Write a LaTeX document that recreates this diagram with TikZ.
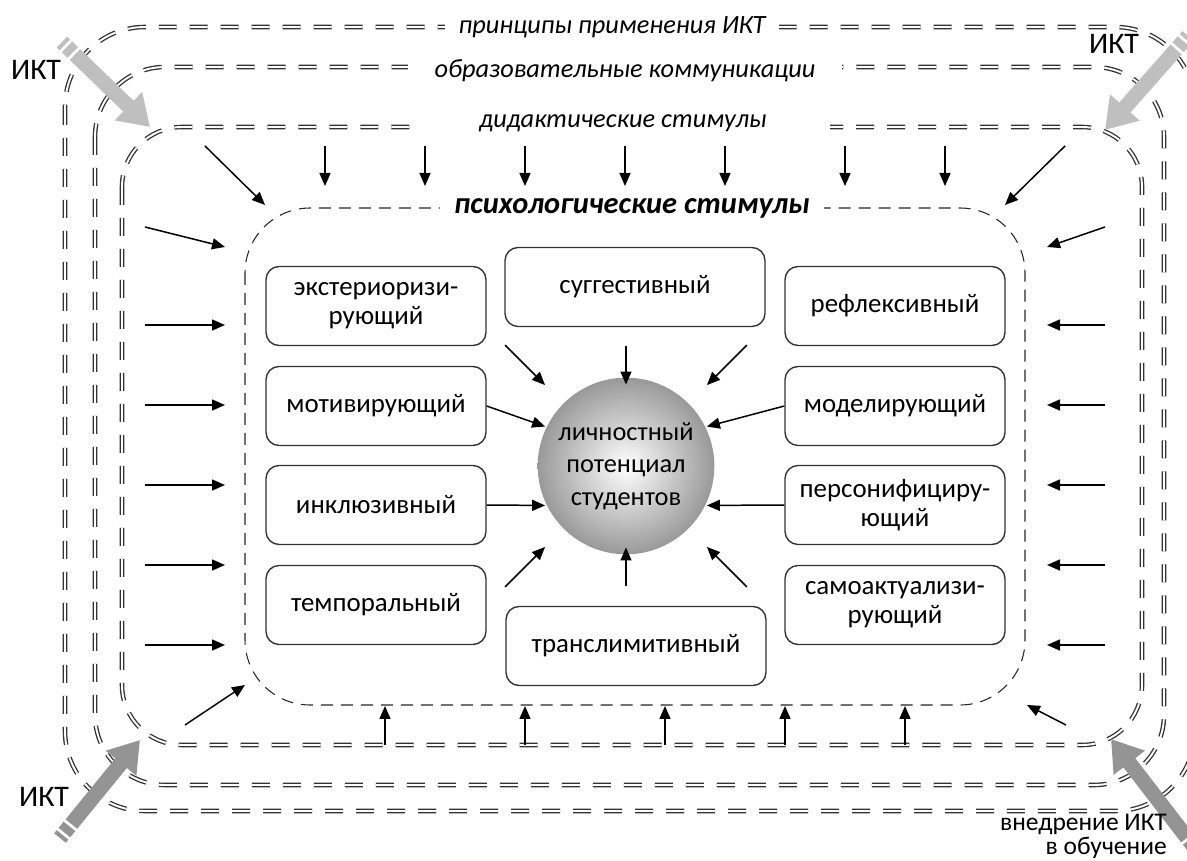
\documentclass[tikz,border=0pt]{standalone}
\usepackage{fontspec}
\setmainfont{Carlito}
\usetikzlibrary{arrows.meta,calc}

\tikzset{
  frameline/.style={draw=black!80, line width=0.75pt, double=white, double distance=1.1pt, dash pattern=on 3.6mm off 2.6mm},
  psychline/.style={draw=black!85, line width=0.6pt, dash pattern=on 2.4mm off 1.6mm},
  framelabel/.style={fill=white, inner sep=0pt, minimum height=6mm, font=\itshape\fontsize{15}{18}\selectfont},
  stimbox/.style={draw=black!80, line width=0.8pt, rounded corners=2.6mm, minimum width=4.4cm, minimum height=1.58cm, align=center, font=\fontsize{15.3}{16.5}\selectfont},
  stim/.style={->, line width=0.85pt, black},
  iktarrow/.style={line width=3mm, -{Triangle[length=6mm,width=7.5mm]}, dash pattern=on 0.8mm off 0.6mm on 1.6mm off 0.6mm on 40cm},
  iktlabel/.style={font=\fontsize{17}{19}\selectfont, inner sep=0pt}
}

\begin{document}
\begin{tikzpicture}[x=0.02cm, y=-0.02cm, >={Triangle[length=2.6mm,width=2.2mm]}]
    \useasboundingbox (0,0) rectangle (1187,861);

    % frames
    \draw[frameline, rounded corners=1.6cm] (65,27) rectangle (1195,811);
    \draw[frameline, rounded corners=1.4cm] (95,67) rectangle (1164,785);
    \draw[frameline, rounded corners=1.2cm] (122,127) rectangle (1142,745);
    \draw[psychline, rounded corners=1.3cm] (245,208) rectangle (1025,705);

    \node[framelabel, minimum width=6.7cm] (princ) at (612,27) {принципы применения ИКТ};
    \node[framelabel, minimum width=8.7cm] (comm) at (625,71) {образовательные коммуникации};
    \node[framelabel, minimum width=8.3cm] (didact) at (623,123) {дидактические стимулы};
    \node[framelabel, minimum width=7.7cm, font=\bfseries\itshape\fontsize{17.3}{20}\selectfont] (psych) at (632,208) {психологические стимулы};

    % ICT arrows
    \draw[iktarrow, black!25] (62,42) -- (150,127);
    \draw[iktarrow, black!25] (1188,36) -- (1105,130);
    \draw[iktarrow, black!42] (60,838) -- (140,740);
    \draw[iktarrow, black!42] (1198,852) -- (1111,739);

    \node[iktlabel] (iktA) at (36,70) {ИКТ};
    \node[iktlabel] (iktB) at (1114,44) {ИКТ};
    \node[iktlabel] (iktC) at (44,797) {ИКТ};
    \node[iktlabel, font=\fontsize{14.5}{13.5}\selectfont, align=right, anchor=south east] (iktD) at (1167,859) {внедрение ИКТ\\в обучение};

    % didactic stimuli
    \foreach \x in {325,425,525,625,725,845,945}
        \draw[stim] (\x,146) -- (\x,186);
    \draw[stim] (205,146) -- (265,205);
    \draw[stim] (1065,146) -- (1005,205);
    \draw[stim] (145,227) -- (225,247);
    \draw[stim] (1105,227) -- (1047,247);
    \foreach \y in {325,405,485,565,645} {
        \draw[stim] (145,\y) -- (225,\y);
        \draw[stim] (1105,\y) -- (1047,\y);
    }
    \draw[stim] (185,725) -- (245,685);
    \draw[stim] (1066,725) -- (1027,705);
    \foreach \x in {385,525,665,785,905}
        \draw[stim] (\x,745) -- (\x,706);

    % psychological stimuli
    \node[circle, minimum size=3.16cm, shading=radial, inner color=white, outer color=black!40,
          align=center, font=\fontsize{15}{18.5}\selectfont] (core) at (626,466) {личностный\\потенциал\\студентов};

    \node[stimbox] (exter) at (376,306) {экстериоризи-\\рующий};
    \node[stimbox] (motiv) at (376,406) {мотивирующий};
    \node[stimbox] (inkl) at (376,505) {инклюзивный};
    \node[stimbox] (temp) at (376,605) {темпоральный};
    \node[stimbox] (refl) at (895,306) {рефлексивный};
    \node[stimbox] (model) at (895,406) {моделирующий};
    \node[stimbox] (pers) at (895,505) {персонифициру-\\ющий};
    \node[stimbox] (samo) at (895,605) {самоактуализи-\\рующий};
    \node[stimbox, minimum width=5.2cm] (sugg) at (635,287) {суггестивный};
    \node[stimbox, minimum width=5.2cm] (trans) at (636,646) {транслимитивный};

    \foreach \a in {45,135,225,315}
        \draw[stim] ($(core)+(\a:3.42cm)$) -- ($(core)+(\a:2.29cm)$);
    \foreach \a in {90,270}
        \draw[stim] ($(core)+(\a:2.4cm)$) -- ($(core)+(\a:1.63cm)$);
    \draw[stim] (motiv.east) -- ($(core)+(154:1.8cm)$);
    \draw[stim] (model.west) -- ($(core)+(26:1.8cm)$);
    \draw[stim] (inkl.east) -- ($(core)+(206:1.8cm)$);
    \draw[stim] (pers.west) -- ($(core)+(-26:1.8cm)$);
\end{tikzpicture}
\end{document}
